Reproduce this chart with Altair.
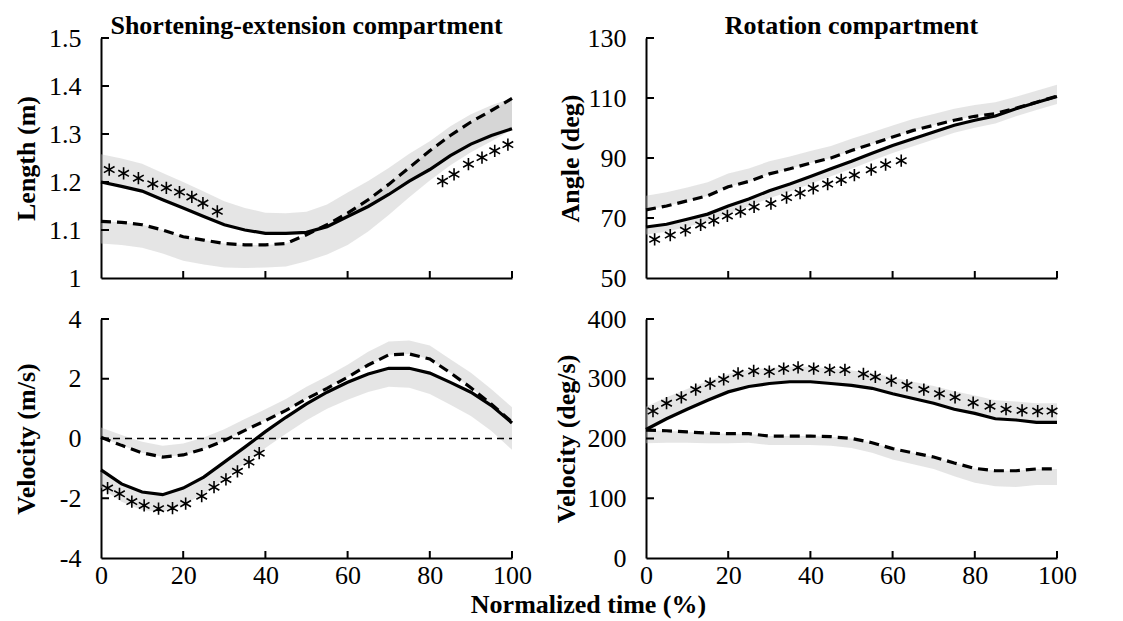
import altair as alt
import pandas as pd

FONT = "Liberation Serif"
GRAY = "#c0c0c0"
BAND_OPACITY = 0.42

# ---- shared x grid (normalized time, %) ----
t = [0, 5, 10, 15, 20, 25, 30, 35, 40, 45, 50, 55, 60, 65, 70, 75, 80, 85, 90, 95, 100]
x_ticks = [0, 20, 40, 60, 80, 100]

# ---- Shortening-extension: length (m) ----
len_solid = [1.200, 1.191, 1.181, 1.163, 1.146, 1.128, 1.111, 1.100, 1.093, 1.093, 1.095,
             1.107, 1.128, 1.149, 1.174, 1.202, 1.226, 1.255, 1.279, 1.297, 1.311]
len_dashed = [1.118, 1.116, 1.111, 1.100, 1.086, 1.079, 1.072, 1.069, 1.069, 1.072, 1.090,
              1.111, 1.135, 1.163, 1.195, 1.230, 1.265, 1.297, 1.325, 1.349, 1.374]
len_solid_sd = [0.058, 0.058, 0.057, 0.056, 0.054, 0.052, 0.049, 0.046, 0.043, 0.042, 0.043,
                0.046, 0.050, 0.053, 0.055, 0.057, 0.059, 0.061, 0.062, 0.063, 0.064]
len_dashed_sd = [0.046, 0.047, 0.048, 0.049, 0.050, 0.051, 0.050, 0.048, 0.047, 0.048, 0.055,
                 0.062, 0.066, 0.066, 0.064, 0.062, 0.062, 0.062, 0.063, 0.064, 0.065]
len_star_t = [2.0, 5.5, 9.1, 12.6, 15.9, 19.1, 22.1, 24.8, 28.3, 83.1, 85.9, 89.4, 92.7, 95.8, 99.0]
len_star_v = [1.226, 1.218, 1.208, 1.196, 1.188, 1.179, 1.169, 1.156, 1.139,
              1.202, 1.216, 1.237, 1.251, 1.265, 1.278]
len_ticks = [1.0, 1.1, 1.2, 1.3, 1.4, 1.5]

# ---- Rotation: angle (deg) ----
ang_solid = [67.0, 67.9, 69.6, 71.3, 74.0, 76.3, 79.1, 81.3, 83.8, 86.4, 88.9,
             91.6, 94.2, 96.4, 98.7, 100.9, 102.6, 104.0, 106.4, 108.5, 110.5]
ang_dashed = [72.7, 74.0, 75.7, 77.4, 80.4, 82.2, 84.7, 86.4, 88.3, 90.0, 92.5,
              94.7, 97.0, 99.2, 100.9, 102.6, 103.9, 104.8, 106.6, 108.6, 110.6]
ang_solid_sd = [2.5] * 21
ang_dashed_sd = [4.7, 4.6, 4.5, 4.5, 4.4, 4.3, 4.2, 4.1, 4.0, 4.0, 3.9,
                 3.9, 3.8, 3.8, 3.8, 3.8, 3.8, 3.8, 3.8, 3.8, 3.8]
ang_star_t = [2.1, 5.9, 9.6, 13.3, 16.5, 19.8, 23.0, 26.3, 30.4, 34.2, 37.5, 40.7,
              44.2, 47.5, 50.7, 54.8, 58.3, 62.1]
ang_star_v = [62.9, 64.3, 65.9, 67.7, 69.2, 70.7, 72.1, 73.7, 74.8, 76.8, 78.3, 79.9,
              81.3, 82.7, 84.3, 86.1, 87.8, 89.1]
ang_ticks = [50, 70, 90, 110, 130]

# ---- Shortening-extension: velocity (m/s) ----
vel_solid = [-1.05, -1.52, -1.79, -1.88, -1.66, -1.29, -0.79, -0.29, 0.23, 0.71, 1.16,
             1.55, 1.88, 2.16, 2.35, 2.35, 2.19, 1.88, 1.55, 1.10, 0.52]
vel_dashed = [0.04, -0.23, -0.48, -0.62, -0.55, -0.35, -0.07, 0.27, 0.60, 0.94, 1.33,
              1.68, 2.05, 2.46, 2.80, 2.83, 2.66, 2.20, 1.70, 1.15, 0.55]
vel_solid_sd = [0.60, 0.60, 0.60, 0.58, 0.57, 0.56, 0.55, 0.55, 0.55, 0.55, 0.55,
                0.55, 0.58, 0.60, 0.62, 0.65, 0.70, 0.75, 0.80, 0.85, 0.90]
vel_dashed_sd = [0.33, 0.35, 0.37, 0.38, 0.38, 0.38, 0.38, 0.38, 0.38, 0.38, 0.40,
                 0.40, 0.42, 0.44, 0.45, 0.45, 0.45, 0.45, 0.50, 0.50, 0.50]
vel_star_t = [1.6, 4.5, 7.5, 10.5, 14.0, 17.4, 20.6, 24.5, 27.5, 30.4, 33.2, 36.0, 38.5]
vel_star_v = [-1.66, -1.85, -2.11, -2.24, -2.35, -2.33, -2.18, -1.93, -1.63, -1.37,
              -1.10, -0.79, -0.49]
vel_ticks = [-4, -2, 0, 2, 4]
zero_t = [0, 100]
zero_v = [0, 0]

# ---- Rotation: velocity (deg/s) ----
rvel_solid = [215, 233, 249, 264, 278, 287, 292, 295, 295, 292, 289,
              284, 275, 267, 259, 249, 242, 233, 231, 227, 227]
rvel_dashed = [214, 213, 211, 209, 208, 208, 204, 204, 204, 203, 200,
               193, 183, 176, 169, 159, 150, 146, 146, 149, 149]
rvel_solid_sd = [38, 36, 34, 32, 30, 28, 26, 25, 25, 25, 25,
                 26, 27, 28, 29, 30, 30, 31, 31, 32, 32]
rvel_dashed_sd = [22, 20, 18, 17, 16, 15, 15, 15, 15, 15, 16,
                  17, 18, 19, 20, 22, 24, 26, 27, 27, 27]
rvel_star_t = [1.7, 5.0, 8.6, 12.1, 15.6, 18.9, 22.4, 26.2, 30.0, 33.5, 37.0, 40.8,
               44.7, 48.4, 52.9, 55.8, 59.7, 63.5, 67.6, 71.4, 75.2, 79.6, 83.7,
               87.6, 91.5, 95.3, 98.8]
rvel_star_v = [246, 259, 269, 282, 292, 299, 309, 313, 312, 317, 319, 317,
               315, 315, 308, 303, 297, 289, 282, 275, 269, 260, 254, 249, 247, 246, 246]
rvel_ticks = [0, 100, 200, 300, 400]

STAR = "M0,-1L0,1M-0.87,-0.5L0.87,0.5M-0.87,0.5L0.87,-0.5"
W, H = 411, 240


def panel(solid, dashed, s_sd, s_dir, d_sd, d_dir, st, sv, ydom, yticks, ytitle,
          ytx, xlabels, h=H, title=None, zero=False, xtitle=None):
    s_lo = [v if s_dir > 0 else v - e for v, e in zip(solid, s_sd)]
    s_hi = [v + e if s_dir > 0 else v for v, e in zip(solid, s_sd)]
    d_lo = [v if d_dir > 0 else v - e for v, e in zip(dashed, d_sd)]
    d_hi = [v + e if d_dir > 0 else v for v, e in zip(dashed, d_sd)]
    df = pd.DataFrame(dict(t=t, solid=solid, dashed=dashed,
                           s_lo=s_lo, s_hi=s_hi, d_lo=d_lo, d_hi=d_hi))

    xax = dict(values=x_ticks, labels=xlabels, ticks=False, tickSize=0, grid=False,
               domainColor="black", domainWidth=2, labelFont=FONT, labelFontSize=26,
               labelColor="black", labelPadding=4, labelFlush=False, labelOverlap=False)
    if xtitle:
        xax.update(title=xtitle, titleFont=FONT, titleFontSize=26, titleFontWeight="bold",
                   titleColor="black", titleX=487, titleY=54, titleAlign="center",
                   titleBaseline="alphabetic", titleAngle=0)
    else:
        xax.update(title="")
    xaxis = alt.Axis(**xax)
    yaxis = alt.Axis(values=yticks, ticks=False, tickSize=0, grid=False,
                     domainColor="black", domainWidth=2, labelFont=FONT, labelFontSize=26,
                     labelColor="black", labelPadding=20, labelFlush=False,
                     labelOverlap=False, labelExpr="'' + datum.value",
                     title=ytitle, titleFont=FONT, titleFontSize=26, titleFontWeight="bold",
                     titleColor="black", titleX=ytx, titleY=h / 2, titleAngle=270,
                     titleAlign="center", titleBaseline="middle")
    xscale = alt.Scale(domain=[0, 100], nice=False)
    yscale = alt.Scale(domain=ydom, nice=False, zero=False)
    X = alt.X("t:Q", scale=xscale, axis=xaxis)

    def Y(f):
        return alt.Y(f, scale=yscale, axis=yaxis)

    base = alt.Chart(df)
    layers = [
        base.mark_area(color=GRAY, opacity=BAND_OPACITY).encode(x=X, y=Y("s_lo:Q"), y2="s_hi:Q"),
        base.mark_area(color=GRAY, opacity=BAND_OPACITY).encode(x=X, y=Y("d_lo:Q"), y2="d_hi:Q"),
    ]
    if zero:
        layers.append(alt.Chart(pd.DataFrame({"t": zero_t, "v": zero_v}))
                      .mark_line(color="black", strokeWidth=1.5, strokeDash=[7, 5])
                      .encode(x=X, y=Y("v:Q")))
    layers += [
        base.mark_line(color="black", strokeWidth=3.2).encode(x=X, y=Y("solid:Q")),
        base.mark_line(color="black", strokeWidth=3.2, strokeDash=[10, 6]).encode(x=X, y=Y("dashed:Q")),
        alt.Chart(pd.DataFrame({"t": st, "v": sv})).mark_point(
            shape=STAR, size=150, stroke="black", strokeWidth=1.6, filled=False, opacity=1
        ).encode(x=X, y=Y("v:Q")),
        alt.Chart(pd.DataFrame({"v": yticks[1:]})).mark_rule(color="black", strokeWidth=2)
        .encode(y=Y("v:Q"), x=alt.value(0), x2=alt.value(8)),
        alt.Chart(pd.DataFrame({"t": x_ticks[1:]})).mark_rule(color="black", strokeWidth=2)
        .encode(x=X, y=alt.value(h), y2=alt.value(h - 7)),
    ]
    props = dict(width=W, height=h)
    if title:
        props["title"] = alt.Title(title, font=FONT, fontSize=26, fontWeight="bold",
                                   color="black", anchor="middle", offset=-14)
    return alt.layer(*layers).properties(**props)


tl = panel(len_solid, len_dashed, len_solid_sd, 1, len_dashed_sd, -1, len_star_t, len_star_v,
           [1.0, 1.5], len_ticks, "Length (m)", -75, False,
           title="Shortening-extension compartment")
tr = panel(ang_solid, ang_dashed, ang_solid_sd, -1, ang_dashed_sd, 1, ang_star_t, ang_star_v,
           [50, 130], ang_ticks, "Angle (deg)", -76, False, title="Rotation compartment")
bl = panel(vel_solid, vel_dashed, vel_solid_sd, -1, vel_dashed_sd, 1, vel_star_t, vel_star_v,
           [-4, 4], vel_ticks, "Velocity (m/s)", -75, True, h=239, zero=True,
           xtitle="Normalized time (%)")
br = panel(rvel_solid, rvel_dashed, rvel_solid_sd, 1, rvel_dashed_sd, -1, rvel_star_t,
           rvel_star_v, [0, 400], rvel_ticks, "Velocity (deg/s)", -80, True, h=239)

chart = alt.concat(
    tl, tr, bl, br, columns=2, spacing={"row": 41, "column": 134}, bounds="flush"
).configure_view(
    stroke=None
).properties(padding={"left": 5, "top": 5, "right": 5, "bottom": 5}, background="white")

chart.save("out.html", embed_options={"renderer": "svg", "actions": False})
